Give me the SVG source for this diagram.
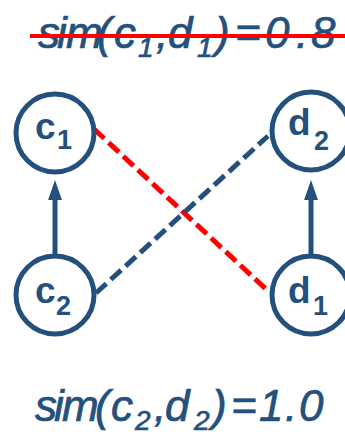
<svg xmlns="http://www.w3.org/2000/svg" width="345" height="436" viewBox="0 0 345 436">
  <defs>
    <style>
      .ring { fill: #ffffff; stroke: #23507d; stroke-width: 5; }
      .lbl { font-family: "Liberation Sans", Arial, sans-serif; font-weight: bold; fill: #23507d; }
      .main { font-size: 37px; }
      .sub { font-size: 27px; }
      .formula { font-family: "Liberation Sans", Arial, sans-serif; font-style: italic; fill: #23507d; stroke: #23507d; stroke-width: 0.7; font-size: 44px; }
      .fsub { font-size: 28px; }
      .edge { stroke: #23507d; stroke-width: 5; fill: none; }
      .dash-red { stroke: #ff0000; stroke-width: 5; stroke-dasharray: 14 6; fill: none; }
      .dash-blue { stroke: #23507d; stroke-width: 5; stroke-dasharray: 14 6; fill: none; }
    </style>
    <marker id="head" markerUnits="userSpaceOnUse" markerWidth="20" markerHeight="28" refX="0" refY="9" orient="auto" viewBox="0 0 26 18">
      <path d="M0,0 L26,9 L0,18 Z" fill="#23507d"/>
    </marker>
  </defs>

  <!-- similarity formulas -->
  <text class="formula" y="48"><tspan x="38 57 66 97 114">sim(c</tspan><tspan class="fsub" x="138" y="57">1</tspan><tspan x="156 168" y="48">,d</tspan><tspan class="fsub" x="197" y="57">1</tspan><tspan x="215 235 265 296 311" y="48">)=0.8</tspan></text>
  <line x1="30" y1="36" x2="345" y2="36" stroke="#ff0000" stroke-width="4"/>

  <text class="formula" y="421"><tspan x="35 54 62 95 111">sim(c</tspan><tspan class="fsub" x="135" y="430">2</tspan><tspan x="154 165" y="421">,d</tspan><tspan class="fsub" x="194" y="430">2</tspan><tspan x="212 231 259 285 299" y="421">)=1.0</tspan></text>

  <!-- connectors -->
  <g id="connectors">
    <line class="edge" x1="55" y1="254" x2="55" y2="200" marker-end="url(#head)"/>
    <line class="edge" x1="311" y1="254" x2="311" y2="200" marker-end="url(#head)"/>
    <line class="dash-red" x1="94" y1="129" x2="268" y2="291"/>
    <line class="dash-blue" x1="96" y1="293" x2="268" y2="136"/>
  </g>

  <!-- nodes -->
  <g id="c1">
    <circle class="ring" cx="55" cy="133" r="39"/>
    <text class="lbl"><tspan class="main" x="35" y="139">c</tspan><tspan class="sub" x="57" y="149">1</tspan></text>
  </g>
  <g id="c2">
    <circle class="ring" cx="55" cy="295" r="39"/>
    <text class="lbl"><tspan class="main" x="35" y="303">c</tspan><tspan class="sub" x="56" y="315">2</tspan></text>
  </g>
  <g id="d2">
    <circle class="ring" cx="311" cy="131" r="39"/>
    <text class="lbl"><tspan class="main" x="288" y="135">d</tspan><tspan class="sub" x="314" y="150">2</tspan></text>
  </g>
  <g id="d1">
    <circle class="ring" cx="311" cy="295" r="39"/>
    <text class="lbl"><tspan class="main" x="288" y="303">d</tspan><tspan class="sub" x="313" y="315">1</tspan></text>
  </g>
</svg>
